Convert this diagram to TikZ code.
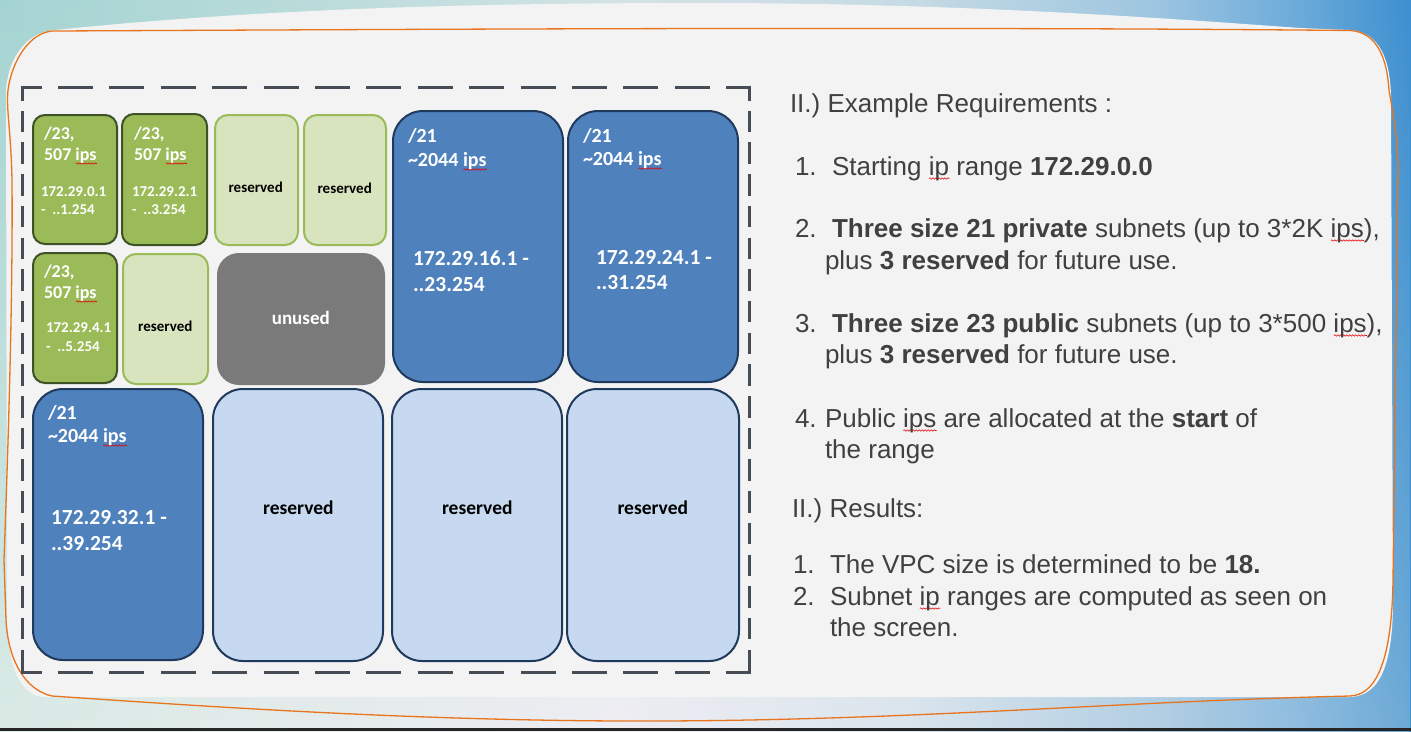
\documentclass[tikz,border=0pt]{standalone}
\usepackage{fontspec}
\setmainfont{Carlito}
\newfontfamily\arialfont{Liberation Sans}
\usetikzlibrary{fadings,decorations.pathmorphing}

% palette
\definecolor{panel}{HTML}{F2F3F2}
\definecolor{rimorange}{HTML}{E8741E}
\definecolor{framegray}{HTML}{454C55}
\definecolor{pubgreen}{HTML}{9BBB59}
\definecolor{pubedge}{HTML}{3F5126}
\definecolor{resgreen}{HTML}{D7E4BD}
\definecolor{privblue}{HTML}{4F81BD}
\definecolor{blueedge}{HTML}{203A5E}
\definecolor{resblue}{HTML}{C6D9F0}
\definecolor{unusedgray}{HTML}{7A7A7A}
\definecolor{bodytext}{HTML}{404040}
% backdrop colours, top row and bottom row
\definecolor{tA}{HTML}{A4D4D2}\definecolor{tB}{HTML}{B9DBDA}\definecolor{tC}{HTML}{D2E2E5}
\definecolor{tD}{HTML}{C7DBE4}\definecolor{tE}{HTML}{9EC6E0}\definecolor{tF}{HTML}{6AAAD9}
\definecolor{tG}{HTML}{3D8FD0}
\definecolor{bA}{HTML}{DBEBE6}\definecolor{bB}{HTML}{E5ECEB}\definecolor{bC}{HTML}{EEEEF3}
\definecolor{bD}{HTML}{DCE6EE}\definecolor{bE}{HTML}{B4D0E4}\definecolor{bF}{HTML}{90BDE0}
\definecolor{bG}{HTML}{6DAAD6}

\pgfdeclarehorizontalshading{skytop}{100bp}{color(0bp)=(tA); color(25bp)=(tA);
  color(35.6bp)=(tB); color(47bp)=(tC); color(57bp)=(tD); color(65.8bp)=(tE);
  color(71.1bp)=(tF); color(75bp)=(tG); color(100bp)=(tG)}
\pgfdeclarehorizontalshading{skybottom}{100bp}{color(0bp)=(bA); color(25bp)=(bA);
  color(35.6bp)=(bB); color(47bp)=(bC); color(57bp)=(bD); color(65.8bp)=(bE);
  color(71.1bp)=(bF); color(75bp)=(bG); color(100bp)=(bG)}
\tikzfading[name=risefade, top color=transparent!100, bottom color=transparent!0]

% red spell-check squiggle under a word
\newsavebox\sqbox
\newlength\sqlen
\newcommand\sq[1]{\sbox\sqbox{#1}\setlength\sqlen{\wd\sqbox}%
  \rlap{\tikz[baseline=0pt]\draw[spell] (0pt,-3.5pt) -- (\sqlen,-3.5pt);}\usebox\sqbox}

% a subnet block given by its left, top, right, bottom edges
\newcommand\cell[6]{\node[#2, minimum width={(#5-#3)*1pt}, minimum height={(#6-#4)*1pt}]
  (#1) at ({(#3+#5)/2},{(#4+#6)/2}) {};}

\tikzset{
  spell/.style={red!90!black, line width=0.55pt, decorate,
    decoration={snake, segment length=3pt, amplitude=0.7pt}},
  rim/.style={draw=rimorange, line width=1.3pt},
  hdash/.style={framegray, line width=3pt, dash pattern=on 35pt off 16.4pt, dash phase=14pt},
  vdash/.style={framegray, line width=3pt, dash pattern=on 21.5pt off 10.2pt, dash phase=6.5pt},
  box/.style={rectangle, rounded corners=#1, inner sep=0pt, line width=2pt},
  pub/.style={box=12pt, fill=pubgreen, draw=pubedge},
  resg/.style={box=13pt, fill=resgreen, draw=pubgreen},
  priv/.style={box=30pt, fill=privblue, draw=blueedge},
  resb/.style={box=30pt, fill=resblue, draw=blueedge},
  idle/.style={box=22pt, fill=unusedgray},
  lbl/.style={anchor=base west, inner sep=0pt, outer sep=0pt},
  hd/.style={lbl, text=white, font=\fontsize{18}{18}\selectfont\bfseries},
  ipS/.style={lbl, text=white, font=\fontsize{15}{15}\selectfont\bfseries},
  hdL/.style={lbl, text=white, font=\fontsize{20}{20}\selectfont\bfseries},
  ipL/.style={lbl, text=white, font=\fontsize{21.5}{21.5}\selectfont\bfseries},
  resS/.style={anchor=base, inner sep=0pt, text=black, font=\fontsize{15}{15}\selectfont\bfseries},
  resL/.style={anchor=base, inner sep=0pt, text=black, font=\fontsize{19.5}{19.5}\selectfont\bfseries},
  idletxt/.style={anchor=base, inner sep=0pt, text=white, font=\fontsize{19}{19}\selectfont\bfseries},
  body/.style={lbl, text=bodytext, font=\arialfont\fontsize{26}{26}\selectfont},
}

\begin{document}
\begin{tikzpicture}[x=1pt, y=-1pt]
\useasboundingbox (0,0) rectangle (1411,731);

% backdrop
\shade[shading=skytop] (0,0) rectangle (1411,731);
\shade[shading=skybottom, path fading=risefade] (0,0) rectangle (1411,731);

% light panel
\fill[panel] (55,30) .. controls (250,10) and (450,3) .. (700,3)
  .. controls (950,3) and (1150,17) .. (1300,28) -- (1350,30)
  .. controls (1380,32) and (1390,60) .. (1391,95) -- (1393,600)
  .. controls (1393,660) and (1382,696) .. (1350,697) -- (45,697)
  .. controls (20,697) and (8,665) .. (7,620) -- (6,90)
  .. controls (8,60) and (25,32) .. (55,30) -- cycle;

% orange rim of the panel
\draw[rim] (52,31) .. controls (300,30) and (900,26) .. (1350,30.5)
  .. controls (1378,32) and (1387,60) .. (1389,90)
  .. controls (1394,120) and (1398,140) .. (1398,170)
  -- (1393,580)
  .. controls (1392,650) and (1380,695) .. (1350,696)
  .. controls (1100,702) and (900,722) .. (620,721)
  .. controls (400,720) and (200,706) .. (52,696)
  .. controls (25,690) and (8,660) .. (6,620)
  -- (4,560)
  .. controls (8,450) and (13,300) .. (12,180)
  .. controls (11,130) and (6,110) .. (8,90)
  .. controls (12,60) and (30,33) .. (52,31) -- cycle;

% bottom edge strip
\fill[black!85] (0,728) rectangle (1411,731);

% dashed VPC frame
\draw[hdash] (20.5,87) -- (750.5,87);
\draw[hdash] (20.5,672) -- (750.5,672);
\draw[vdash] (22,85.5) -- (22,673.5);
\draw[vdash] (749,85.5) -- (749,673.5);

% subnet blocks
\cell{g1}{pub}{33}{115}{117}{244}
\cell{g2}{pub}{122}{114}{207}{245}
\cell{r1}{resg}{215}{115}{298}{245}
\cell{r2}{resg}{304}{115}{386}{245}
\cell{g3}{pub}{33}{253}{117}{383}
\cell{r3}{resg}{123}{254}{208}{384}
\cell{un}{idle}{217}{253}{385}{385}
\cell{b1}{priv}{393}{111}{563}{382}
\cell{b2}{priv}{568}{111}{738}{382}
\cell{b3}{priv}{33}{389}{203}{660}
\cell{r4}{resb}{213}{389}{383}{661}
\cell{r5}{resb}{392}{389}{562}{661}
\cell{r6}{resb}{567}{389}{739}{661}

% public /23 subnets
\node[hd]  (g1a) at (44,139) {/23,};
\node[hd]  (g1b) at (44,160) {507 \sq{ips}};
\node[ipS] (g1c) at (41,196) {172.29.0.1};
\node[ipS] (g1d) at (41,214) {-~~..1.254};
\node[hd]  (g2a) at (134,139) {/23,};
\node[hd]  (g2b) at (134,160) {507 \sq{ips}};
\node[ipS] (g2c) at (132,196) {172.29.2.1};
\node[ipS] (g2d) at (132,214) {-~~..3.254};
\node[hd]  (g3a) at (44,277) {/23,};
\node[hd]  (g3b) at (44,298) {507 \sq{ips}};
\node[ipS] (g3c) at (46,332) {172.29.4.1};
\node[ipS] (g3d) at (46,351) {-~~..5.254};

% reserved and unused space
\node[resS] (r1t) at (255.7,192) {reserved};
\node[resS] (r2t) at (344.7,193) {reserved};
\node[resS] (r3t) at (165.3,331) {reserved};
\node[idletxt] (unt) at (300.8,324) {unused};
\node[resL] (r4t) at (298.4,514) {reserved};
\node[resL] (r5t) at (477.3,514) {reserved};
\node[resL] (r6t) at (652.8,514) {reserved};

% private /21 subnets
\node[hdL] (b1a) at (408,142) {/21};
\node[hdL] (b1b) at (408,166) {\textasciitilde2044 \sq{ips}};
\node[ipL] (b1c) at (413,265) {172.29.16.1 -};
\node[ipL] (b1d) at (413,291) {..23.254};
\node[hdL] (b2a) at (583,142) {/21};
\node[hdL] (b2b) at (583,165) {\textasciitilde2044 \sq{ips}};
\node[ipL] (b2c) at (596,264) {172.29.24.1 -};
\node[ipL] (b2d) at (596,289) {..31.254};
\node[hdL] (b3a) at (48,419) {/21};
\node[hdL] (b3b) at (48,442) {\textasciitilde2044 \sq{ips}};
\node[ipL] (b3c) at (51,524) {172.29.32.1 -};
\node[ipL] (b3d) at (51,550) {..39.254};

% requirements and results
\node[body] (req) at (790,112) {II.) Example Requirements :};
\node[body] (q1n) at (795,175) {1.};
\node[body] (q1)  at (832,175) {Starting \sq{ip} range \textbf{172.29.0.0}};
\node[body] (q2n) at (795,237) {2.};
\node[body] (q2)  at (832,237) {\textbf{Three size 21 private} subnets (up to 3*2K \sq{ips}),};
\node[body] (q2b) at (825,269) {plus \textbf{3 reserved} for future use.};
\node[body] (q3n) at (795,332) {3.};
\node[body] (q3)  at (832,332) {\textbf{Three size 23 public} subnets (up to 3*500 \sq{ips}),};
\node[body] (q3b) at (825,363) {plus \textbf{3 reserved} for future use.};
\node[body] (q4n) at (795,427) {4.};
\node[body] (q4)  at (825,427) {Public \sq{ips} are allocated at the \textbf{start} of};
\node[body] (q4b) at (825,458) {the range};
\node[body] (resu) at (792,517) {II.) Results:};
\node[body] (s1n) at (793,573) {1.};
\node[body] (s1)  at (830,573) {The VPC size is determined to be \textbf{18.}};
\node[body] (s2n) at (793,605) {2.};
\node[body] (s2)  at (830,605) {Subnet \sq{ip} ranges are computed as seen on};
\node[body] (s2b) at (830,636) {the screen.};
\end{tikzpicture}
\end{document}
